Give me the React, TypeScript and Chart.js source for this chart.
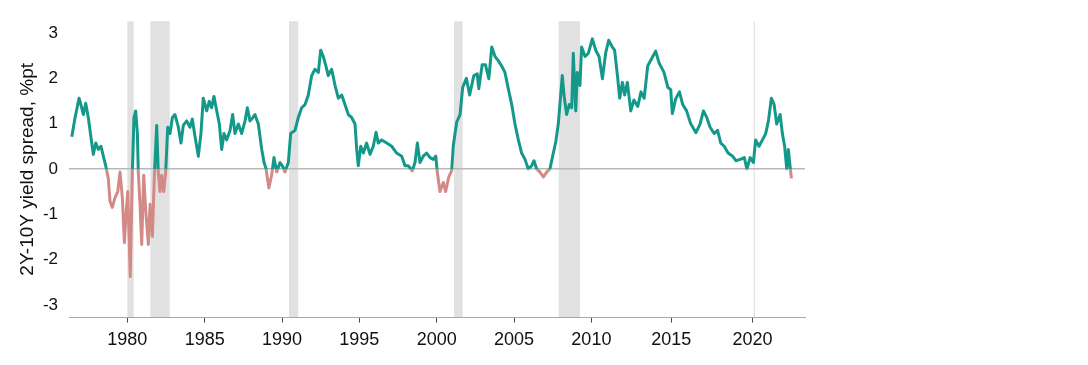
import React, { useEffect, useRef } from "react";
import { Chart, registerables } from "chart.js";

Chart.register(...registerables);

// ---- data ----
const years: number[] = [
  1976.41, 1976.62, 1976.88, 1977.0, 1977.16, 1977.31, 1977.48, 1977.7, 1977.8, 1977.96,
  1978.13, 1978.3, 1978.45, 1978.6, 1978.67, 1978.77, 1978.88, 1979.03, 1979.2, 1979.38,
  1979.53, 1979.68, 1979.81, 1979.92, 1980.03, 1980.19, 1980.32, 1980.43, 1980.54, 1980.65,
  1980.71, 1980.82, 1980.93, 1981.06, 1981.19, 1981.36, 1981.47, 1981.62, 1981.75, 1981.9,
  1982.0, 1982.11, 1982.22, 1982.35, 1982.48, 1982.61, 1982.76, 1982.91, 1983.08, 1983.3,
  1983.47, 1983.62, 1983.84, 1984.05, 1984.2, 1984.38, 1984.59, 1984.76, 1984.91, 1985.13,
  1985.3, 1985.45, 1985.6, 1985.78, 1985.95, 1986.1, 1986.25, 1986.42, 1986.64, 1986.81,
  1986.96, 1987.18, 1987.39, 1987.61, 1987.76, 1987.93, 1988.11, 1988.25, 1988.47, 1988.69,
  1988.84, 1988.97, 1989.15, 1989.33, 1989.48, 1989.66, 1989.87, 1990.05, 1990.19, 1990.41,
  1990.56, 1990.84, 1991.05, 1991.27, 1991.49, 1991.7, 1991.92, 1992.13, 1992.35, 1992.5,
  1992.67, 1992.84, 1992.99, 1993.21, 1993.43, 1993.64, 1993.86, 1994.07, 1994.29, 1994.51,
  1994.72, 1994.83, 1994.93, 1995.09, 1995.26, 1995.47, 1995.69, 1995.9, 1996.08, 1996.22,
  1996.44, 1996.77, 1997.09, 1997.41, 1997.74, 1997.95, 1998.16, 1998.42, 1998.6, 1998.75,
  1998.92, 1999.13, 1999.35, 1999.57, 1999.78, 1999.94, 2000.04, 2000.21, 2000.43, 2000.58,
  2000.78, 2000.97, 2001.07, 2001.29, 2001.51, 2001.68, 2001.92, 2002.13, 2002.4, 2002.62,
  2002.72, 2002.94, 2003.15, 2003.37, 2003.56, 2003.77, 2003.98, 2004.2, 2004.41, 2004.63,
  2004.85, 2005.06, 2005.28, 2005.49, 2005.71, 2005.92, 2006.14, 2006.29, 2006.46, 2006.68,
  2006.89, 2007.11, 2007.32, 2007.54, 2007.7, 2007.86, 2008.12, 2008.23, 2008.4, 2008.57,
  2008.73, 2008.83, 2008.99, 2009.09, 2009.26, 2009.37, 2009.59, 2009.8, 2010.06, 2010.27,
  2010.48, 2010.69, 2010.89, 2011.08, 2011.31, 2011.45, 2011.63, 2011.77, 2011.94, 2012.08,
  2012.25, 2012.46, 2012.66, 2012.9, 2013.1, 2013.3, 2013.52, 2013.73, 2014.02, 2014.23,
  2014.54, 2014.78, 2014.96, 2015.06, 2015.27, 2015.5, 2015.7, 2015.94, 2016.19, 2016.52,
  2016.77, 2016.98, 2017.19, 2017.39, 2017.64, 2017.85, 2018.05, 2018.26, 2018.5, 2018.78,
  2018.98, 2019.25, 2019.5, 2019.66, 2019.86, 2020.06, 2020.2, 2020.41, 2020.62, 2020.82,
  2020.99, 2021.17, 2021.34, 2021.5, 2021.71, 2021.85, 2021.99, 2022.12, 2022.22, 2022.32,
  2022.41,
];

const spread: number[] = [
  0.71, 1.13, 1.56, 1.42, 1.2, 1.45, 1.13, 0.57, 0.32, 0.57,
  0.43, 0.5, 0.28, 0.07, -0.04, -0.21, -0.71, -0.85, -0.64, -0.5,
  -0.07, -0.64, -1.63, -0.99, -0.5, -2.38, -0.14, 1.13, 1.28, 0.78,
  -0.07, -0.78, -1.67, -0.14, -0.92, -1.67, -0.78, -1.49, -0.14, 0.96,
  -0.07, -0.5, -0.14, -0.5, -0.07, 0.92, 0.78, 1.13, 1.2, 0.92,
  0.57, 0.96, 1.06, 0.92, 1.1, 0.71, 0.28, 0.78, 1.56, 1.28,
  1.49, 1.35, 1.6, 1.28, 0.99, 0.43, 0.78, 0.64, 0.85, 1.2,
  0.78, 0.99, 0.78, 1.06, 1.35, 1.06, 1.13, 1.2, 0.99, 0.43,
  0.14, 0.0, -0.42, -0.14, 0.25, -0.07, 0.14, 0.05, -0.07, 0.14,
  0.78, 0.85, 1.13, 1.35, 1.42, 1.63, 2.06, 2.2, 2.13, 2.62,
  2.48, 2.27, 2.06, 2.2, 1.84, 1.56, 1.63, 1.42, 1.2, 1.13,
  0.99, 0.43, 0.07, 0.5, 0.35, 0.57, 0.32, 0.5, 0.81, 0.57,
  0.64, 0.57, 0.5, 0.35, 0.28, 0.07, 0.07, -0.04, 0.14, 0.57,
  0.14, 0.28, 0.35, 0.25, 0.21, 0.28, -0.07, -0.5, -0.3, -0.5,
  -0.18, -0.04, 0.5, 1.03, 1.2, 1.8, 2.0, 1.63, 2.06, 2.1,
  1.77, 2.3, 2.3, 1.99, 2.69, 2.48, 2.39, 2.27, 2.13, 1.77,
  1.42, 0.99, 0.64, 0.35, 0.21, 0.0, 0.07, 0.18, 0.0, -0.07,
  -0.18, -0.07, 0.0, 0.35, 0.6, 0.99, 2.06, 1.63, 1.2, 1.42,
  1.35, 2.55, 1.28, 2.13, 1.84, 2.69, 2.48, 2.55, 2.87, 2.62,
  2.48, 1.99, 2.55, 2.84, 2.69, 2.62, 2.06, 1.56, 1.91, 1.63,
  1.91, 1.28, 1.52, 1.38, 1.7, 1.56, 2.27, 2.41, 2.6, 2.34,
  2.13, 1.8, 1.75, 1.22, 1.55, 1.7, 1.42, 1.28, 1.0, 0.8,
  0.99, 1.28, 1.13, 0.92, 0.78, 0.85, 0.57, 0.5, 0.35, 0.28,
  0.18, 0.21, 0.25, 0.0, 0.25, 0.14, 0.64, 0.5, 0.64, 0.78,
  1.06, 1.56, 1.42, 0.99, 1.2, 0.78, 0.5, 0.0, 0.43, 0.07,
  -0.21,
];

const recessionStart: number[] = [1980.0, 1981.49, 1990.45, 2001.12, 2007.89, 2020.08];
const recessionEnd: number[] = [1980.41, 1982.74, 1991.05, 2001.68, 2009.26, 2020.15];

const tickYears: number[] = [1980, 1985, 1990, 1995, 2000, 2005, 2010, 2015, 2020];
const tickLabels: string[] = ["1980", "1985", "1990", "1995", "2000", "2005", "2010", "2015", "2020"];
const yTicks: number[] = [-3, -2, -1, 0, 1, 2, 3];

const yTitle = "2Y-10Y yield spread, %pt";

// the reference axis spaces its later years slightly wider; map years to axis positions
const axisYears: number[] = [1970, 2010, 2015, 2020, 2030];
const axisPos: number[] = [1970, 2010, 2015.17, 2020.41, 2030.88];

function yearToPos(y: number): number {
  for (let i = 0; i < axisYears.length - 1; i++) {
    if (y <= axisYears[i + 1] || i === axisYears.length - 2) {
      const t = (y - axisYears[i]) / (axisYears[i + 1] - axisYears[i]);
      return axisPos[i] + t * (axisPos[i + 1] - axisPos[i]);
    }
  }
  return y;
}

const POS = "#14988a";
const NEG = "#d38a87";
const FONT = "'Liberation Sans', Arial, sans-serif";

export default function App() {
  const ref = useRef<HTMLCanvasElement | null>(null);

  useEffect(() => {
    if (!ref.current) return;

    const recessionPlugin = {
      id: "recessions",
      beforeDraw(chart: any) {
        const { ctx, chartArea, scales } = chart;
        if (!chartArea) return;
        ctx.save();
        ctx.fillStyle = "#e1e1e1";
        for (let i = 0; i < recessionStart.length; i++) {
          const x0 = scales.x.getPixelForValue(yearToPos(recessionStart[i]));
          const x1 = scales.x.getPixelForValue(yearToPos(recessionEnd[i]));
          ctx.fillRect(x0, chartArea.top, Math.max(1, x1 - x0), chartArea.bottom - chartArea.top);
        }
        ctx.restore();
      },
    };

    const chart = new Chart(ref.current, {
      type: "line",
      data: {
        datasets: [
          {
            data: years.map((y, i) => ({ x: yearToPos(y), y: spread[i] })),
            borderWidth: 3,
            pointRadius: 0,
            tension: 0,
            borderJoinStyle: "round",
            borderColor: (c: any) => {
              const ch = c.chart;
              const area = ch.chartArea;
              if (!area) return POS;
              const z = ch.scales.y.getPixelForValue(0);
              const g = ch.ctx.createLinearGradient(0, area.top, 0, area.bottom);
              const f = Math.min(1, Math.max(0, (z - area.top) / (area.bottom - area.top)));
              g.addColorStop(0, POS);
              g.addColorStop(f, POS);
              g.addColorStop(f, NEG);
              g.addColorStop(1, NEG);
              return g;
            },
          },
        ],
      },
      options: {
        animation: false,
        responsive: true,
        maintainAspectRatio: false,
        layout: { padding: { left: 0, right: 283, top: 10, bottom: 0 } },
        plugins: { legend: { display: false }, tooltip: { enabled: false } },
        scales: {
          x: {
            type: "linear",
            min: 1976.23,
            max: 2023.81,
            afterBuildTicks: (s: any) => {
              s.ticks = tickYears.map((y) => ({ value: yearToPos(y) }));
            },
            afterFit: (s: any) => {
              s.height = 47.5;
            },
            ticks: {
              autoSkip: false,
              maxRotation: 0,
              padding: 7,
              color: "#111",
              font: { family: FONT, size: 18 },
              callback: (_v: any, i: number) => tickLabels[i],
            },
            grid: { display: true, drawOnChartArea: false, drawTicks: true, tickLength: 5, color: "#444" },
            border: { display: true, color: "#a8a8a8", width: 1 },
          },
          y: {
            min: -3.28,
            max: 3.26,
            afterBuildTicks: (s: any) => {
              s.ticks = yTicks.map((v) => ({ value: v }));
            },
            afterFit: (s: any) => {
              s.width = 69;
            },
            ticks: {
              padding: 11,
              color: "#111",
              font: { family: FONT, size: 17 },
              callback: (v: any) => String(v),
            },
            grid: {
              drawTicks: false,
              lineWidth: 1.5,
              color: (c: any) => (c.tick && c.tick.value === 0 ? "#b8b8b8" : "rgba(0,0,0,0)"),
            },
            border: { display: false },
            title: {
              display: true,
              text: yTitle,
              color: "#111",
              font: { family: FONT, size: 19 },
              padding: { top: 16, bottom: 0 },
            },
          },
        },
      },
      plugins: [recessionPlugin],
    } as any);

    return () => chart.destroy();
  }, []);

  return (
    <div style={{ position: "fixed", left: 0, top: 0, width: 1088, height: 365, background: "#fff" }}>
      <canvas ref={ref} />
    </div>
  );
}
